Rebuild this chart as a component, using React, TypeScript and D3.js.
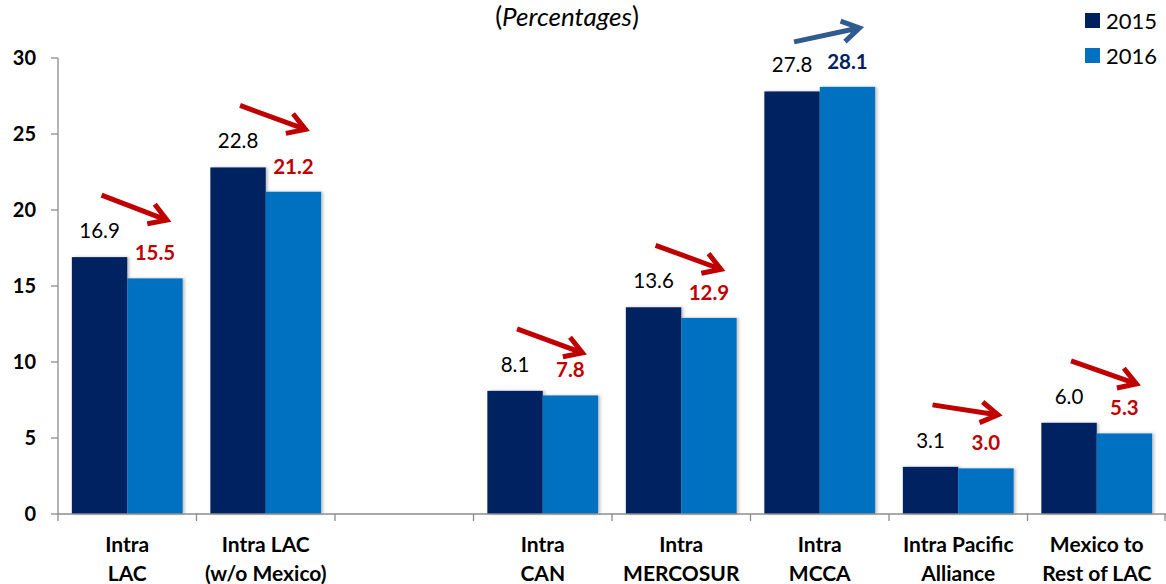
import React from "react";
import * as d3 from "d3";

const categories: string[][] = [
  ["Intra", "LAC"],
  ["Intra LAC", "(w/o Mexico)"],
  [],
  ["Intra", "CAN"],
  ["Intra", "MERCOSUR"],
  ["Intra", "MCCA"],
  ["Intra Pacific", "Alliance"],
  ["Mexico to", "Rest of LAC"],
];
const values2015: (number | null)[] = [16.9, 22.8, null, 8.1, 13.6, 27.8, 3.1, 6.0];
const values2016: (number | null)[] = [15.5, 21.2, null, 7.8, 12.9, 28.1, 3.0, 5.3];
const yTicks: number[] = [0, 5, 10, 15, 20, 25, 30];
const seriesNames: string[] = ["2015", "2016"];
// vertical drop of each annotation arrow (px), as drawn in the source
const arrowDrop: number[] = [25, 24, 0, 24, 24, -14, 10, 23];

const W = 1166;
const H = 584;
const C2015 = "#002060";
const C2016 = "#0070C0";
const RED = "#C00000";
const UPBLUE = "#2F5B8E";
const FONT = "Lato, 'Open Sans', sans-serif";

export default function App() {
  const left = 58;
  const right = 1166;
  const y = d3.scaleLinear().domain([0, 30]).range([514, 58]);
  const slots = d3.range(categories.length).map(String);
  const x = d3.scaleBand().domain(slots).range([left, right]).paddingInner(0).paddingOuter(0);
  const bw = x.bandwidth() * 0.4;
  const barX = (i: number, s: number) => (x(String(i)) as number) + x.bandwidth() * 0.1 + s * bw;

  const boundaries = d3.range(categories.length + 1).map((i) => left + i * x.step());

  return (
    <svg width={W} height={H} style={{ position: "absolute", left: 0, top: 0 }} fontFamily={FONT}>
      <defs>
        <filter id="sh" x="-10%" y="-10%" width="130%" height="120%">
          <feDropShadow dx="2" dy="0" stdDeviation="1.5" floodColor="#000" floodOpacity="0.25" />
        </filter>
      </defs>
      <rect width={W} height={H} fill="#fff" />
      {/* title */}
      <text x={567} y={26} textAnchor="middle" fontSize={26} fill="#000">
        (<tspan fontStyle="italic">Percentages</tspan>)
      </text>
      {/* legend */}
      {seriesNames.map((s, k) => (
        <g key={s}>
          <rect x={1085} y={13 + k * 35} width={15} height={15} fill={k === 0 ? C2015 : C2016} />
          <text x={1106} y={29 + k * 35} fontSize={22} fill="#000">{s}</text>
        </g>
      ))}
      {/* y axis */}
      <line x1={left} x2={left} y1={y(30)} y2={y(0)} stroke="#8c8c8c" strokeWidth={1.3} />
      {yTicks.map((t) => (
        <g key={t}>
          <line x1={51} x2={left} y1={y(t)} y2={y(t)} stroke="#8c8c8c" strokeWidth={1.3} />
          <text x={36} y={y(t) + 7} textAnchor="end" fontSize={20} fontWeight="bold" fill="#000">{t}</text>
        </g>
      ))}
      {/* bars */}
      {categories.map((c, i) => {
        const v15 = values2015[i];
        const v16 = values2016[i];
        if (v15 == null || v16 == null) return null;
        const x0 = barX(i, 0);
        const x1 = barX(i, 1);
        const up = v16 > v15;
        const labColor = up ? C2015 : RED;
        const top = y(Math.max(v15, v16));
        const tailX = x0 + bw / 2 + 2;
        const headX = x1 + bw / 2 + 12;
        const drop = arrowDrop[i];
        const tailY = up ? top - 45 : top - 62;
        const headY = tailY + drop;
        const ang = Math.atan2(headY - tailY, headX - tailX);
        const hl = 20;
        const ha = 0.55;
        const p1 = [headX - hl * Math.cos(ang - ha), headY - hl * Math.sin(ang - ha)];
        const p2 = [headX - hl * Math.cos(ang + ha), headY - hl * Math.sin(ang + ha)];
        const arrowColor = up ? UPBLUE : RED;
        return (
          <g key={i}>
            <rect x={x0} y={y(v15)} width={bw} height={y(0) - y(v15)} fill={C2015} filter="url(#sh)" />
            <rect x={x1} y={y(v16)} width={bw} height={y(0) - y(v16)} fill={C2016} filter="url(#sh)" />
            <text x={x0 + bw / 2} y={y(v15) - 19} textAnchor="middle" fontSize={20.5} fill="#000">{v15.toFixed(1)}</text>
            <text x={x1 + bw / 2} y={y(v16) - 18} textAnchor="middle" fontSize={20.5} fontWeight="bold" fill={labColor}>{v16.toFixed(1)}</text>
            <path
              d={`M${tailX},${tailY}L${headX - 3 * Math.cos(ang)},${headY - 3 * Math.sin(ang)}M${p1[0]},${p1[1]}L${headX},${headY}L${p2[0]},${p2[1]}`}
              stroke={arrowColor}
              strokeWidth={5}
              fill="none"
              strokeLinecap="butt"
              strokeLinejoin="miter"
            />
          </g>
        );
      })}
      {/* x axis */}
      <line x1={left} x2={right} y1={y(0)} y2={y(0)} stroke="#8c8c8c" strokeWidth={1.3} />
      {boundaries.map((b, i) => (
        <line key={i} x1={Math.min(b, right - 1)} x2={Math.min(b, right - 1)} y1={y(0)} y2={y(0) + 7} stroke="#8c8c8c" strokeWidth={1.3} />
      ))}
      {categories.map((c, i) => (
        <text key={i} textAnchor="middle" fontSize={21} fontWeight="bold" fill="#000">
          {c.map((line, j) => (
            <tspan key={j} x={(x(String(i)) as number) + x.bandwidth() / 2} y={552 + j * 29}>{line}</tspan>
          ))}
        </text>
      ))}
    </svg>
  );
}
